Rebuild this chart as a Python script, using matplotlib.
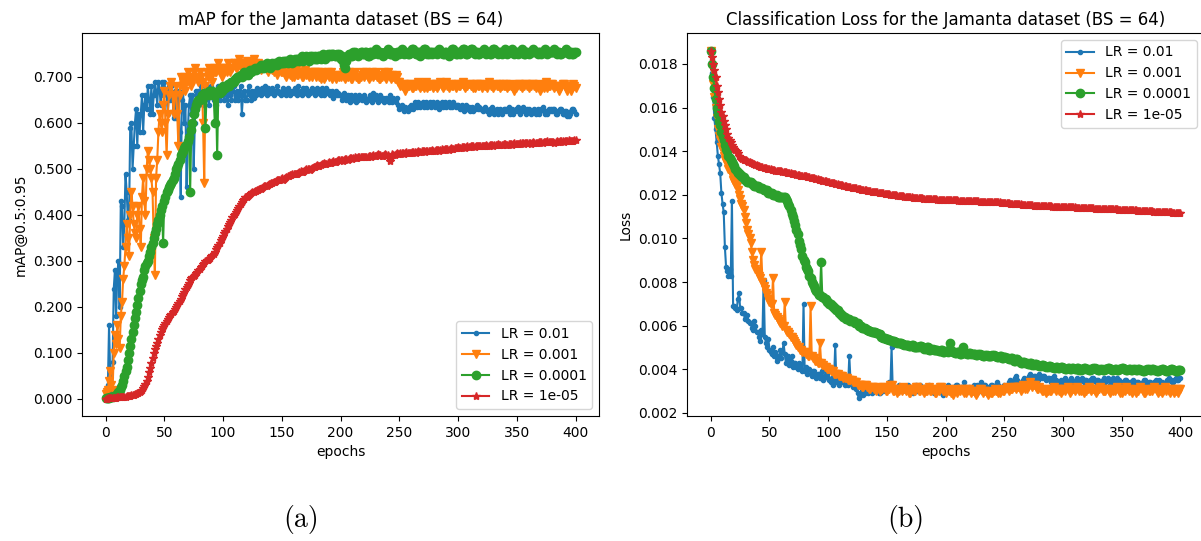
import matplotlib.pyplot as plt
import numpy as np
from matplotlib.ticker import FormatStrFormatter

# one value per epoch (0..400)
labels = ['LR = 0.01', 'LR = 0.001', 'LR = 0.0001', 'LR = 1e-05']
markers = ['.', 'v', 'o', '*']

map_lr1 = [
    .005, .01, .03, .16, .05, .02, .08, .24, .28, .18, .27, .30, .20, .43, .42, .33, .38, .49, .45, .39,
    .39, .59, .60, .50, .55, .60, .63, .55, .62, .58, .62, .66, .58, .64, .66, .63, .68, .65, .62, .68,
    .62, .66, .69, .67, .64, .69, .67, .64, .69, .66, .69, .67, .66, .62, .68, .65, .68, .66, .61, .67,
    .61, .65, .67, .58, .44, .65, .67, .60, .64, .46, .58, .64, .66, .62, .66, .50, .60, .67, .64, .67,
    .65, .68, .66, .64, .67, .65, .68, .66, .64, .67, .68, .66, .65, .67, .64, .66, .68, .65, .66, .67,
    .68, .65, .67, .66, .64, .68, .66, .65, .67, .68, .65, .66, .67, .65, .66, .68, .62, .66, .67, .65,
    .65, .67, .68, .66, .65, .67, .655, .67, .66, .675, .665, .67, .66, .675, .665, .67, .68, .66, .675, .67,
    .665, .67, .675, .66, .665, .67, .68, .67, .665, .66, .67, .675, .665, .67, .66, .675, .67, .66, .665, .67,
    .665, .675, .67, .66, .68, .665, .67, .66, .675, .665, .67, .675, .66, .67, .665, .67, .675, .665, .66, .67,
    .675, .665, .67, .66, .675, .665, .66, .67, .675, .665, .67, .66, .665, .67, .655, .665, .67, .66, .665, .66,
    .66, .65, .655, .665, .66, .65, .66, .655, .645, .66, .655, .65, .66, .645, .655, .65, .66, .655, .65, .655,
    .66, .655, .645, .65, .655, .66, .65, .645, .665, .655, .66, .65, .645, .655, .66, .65, .655, .645, .65, .655,
    .65, .645, .66, .65, .645, .655, .65, .645, .655, .64, .63, .635, .64, .63, .625, .635, .63, .625, .635, .63,
    .64, .635, .63, .645, .64, .635, .645, .64, .635, .64, .645, .635, .64, .645, .635, .64, .645, .635, .64, .645,
    .635, .64, .645, .64, .63, .64, .645, .635, .64, .645, .635, .64, .645, .635, .64, .635, .645, .64, .635, .64,
    .64, .635, .63, .64, .635, .625, .63, .64, .63, .635, .625, .63, .635, .625, .63, .635, .64, .63, .635, .63,
    .63, .625, .63, .635, .63, .625, .62, .63, .625, .635, .63, .62, .625, .63, .62, .625, .63, .62, .625, .63,
    .63, .625, .63, .635, .62, .625, .63, .62, .625, .63, .625, .635, .63, .62, .625, .635, .63, .625, .62, .63,
    .63, .625, .62, .625, .625, .63, .62, .625, .63, .62, .625, .63, .635, .625, .62, .625, .62, .63, .625, .63,
    .625, .63, .63, .62, .62, .625, .625, .63, .63, .62, .62, .625, .625, .615, .615, .62, .625, .63, .63, .625,
    .62]
map_lr2 = [
    .01, .015, .02, .04, .06, .03, .02, .10, .14, .12, .16, .13, .11, .18, .21, .26, .29, .33, .38, .35,
    .31, .40, .45, .42, .38, .36, .35, .40, .42, .37, .33, .44, .48, .43, .40, .50, .54, .52, .50, .48,
    .45, .35, .27, .48, .52, .58, .62, .60, .58, .64, .67, .60, .53, .62, .66, .68, .69, .66, .62, .66,
    .68, .62, .55, .66, .70, .68, .69, .70, .67, .69, .71, .70, .70, .68, .69, .71, .72, .70, .70, .69,
    .71, .70, .69, .60, .47, .68, .71, .70, .72, .71, .70, .69, .72, .71, .71, .72, .73, .71, .72, .70,
    .71, .72, .72, .71, .73, .72, .71, .72, .72, .73, .73, .72, .72, .73, .74, .72, .72, .73, .73, .72,
    .735, .73, .72, .73, .73, .72, .74, .73, .72, .725, .73, .72, .715, .725, .725, .72, .72, .715, .71, .72,
    .725, .72, .715, .71, .72, .715, .705, .715, .72, .71, .71, .715, .715, .705, .70, .71, .715, .705, .71, .70,
    .70, .71, .715, .705, .705, .71, .71, .70, .70, .71, .715, .705, .705, .70, .71, .705, .70, .71, .71, .70,
    .705, .71, .70, .695, .71, .705, .695, .70, .705, .71, .70, .705, .71, .695, .70, .705, .695, .70, .705, .70,
    .70, .705, .71, .70, .695, .70, .70, .71, .705, .695, .695, .705, .71, .70, .70, .695, .695, .70, .705, .71,
    .70, .705, .71, .70, .695, .70, .705, .71, .70, .705, .71, .70, .70, .695, .695, .70, .705, .71, .70, .695,
    .71, .705, .70, .695, .705, .70, .695, .705, .70, .69, .69, .68, .68, .685, .685, .67, .675, .68, .68, .685,
    .685, .675, .675, .68, .68, .685, .69, .68, .675, .68, .68, .675, .685, .69, .675, .68, .68, .685, .685, .675,
    .68, .685, .675, .68, .685, .69, .68, .675, .68, .685, .69, .68, .675, .68, .685, .68, .68, .685, .675, .68,
    .685, .68, .68, .685, .69, .68, .675, .68, .68, .685, .685, .68, .68, .675, .675, .685, .685, .68, .68, .685,
    .675, .68, .685, .68, .68, .675, .69, .685, .68, .68, .675, .68, .685, .68, .68, .685, .675, .68, .685, .68,
    .68, .685, .675, .68, .685, .68, .68, .675, .67, .675, .68, .685, .685, .68, .675, .68, .68, .685, .685, .68,
    .675, .68, .68, .685, .685, .68, .675, .68, .68, .685, .67, .675, .68, .675, .685, .69, .675, .68, .68, .685,
    .685, .68, .675, .68, .68, .675, .67, .675, .68, .685, .685, .68, .675, .67, .68, .675, .67, .68, .685, .68,
    .675]
map_lr3 = [
    .002, .002, .003, .003, .004, .004, .005, .006, .007, .008, .01, .015, .02, .025, .03, .04, .05, .06, .07, .085,
    .10, .115, .13, .145, .16, .175, .19, .205, .22, .235, .25, .258, .265, .28, .29, .295, .30, .31, .32, .33,
    .34, .35, .36, .37, .38, .39, .40, .41, .42, .34, .43, .44, .45, .455, .46, .465, .47, .475, .48, .49,
    .50, .505, .51, .52, .53, .535, .54, .545, .55, .555, .56, .57, .45, .585, .60, .62, .63, .64, .645, .65,
    .65, .655, .66, .66, .665, .59, .66, .665, .67, .66, .665, .67, .66, .60, .665, .53, .67, .665, .675, .67,
    .68, .675, .675, .68, .685, .68, .685, .69, .69, .69, .695, .695, .70, .70, .70, .705, .70, .705, .71, .705,
    .71, .705, .71, .715, .71, .715, .715, .72, .715, .72, .72, .72, .725, .72, .725, .72, .725, .73, .725, .725,
    .72, .725, .73, .725, .73, .73, .725, .73, .735, .73, .73, .735, .73, .735, .735, .73, .735, .74, .735, .73,
    .735, .74, .735, .74, .74, .735, .74, .745, .735, .74, .74, .745, .74, .735, .745, .74, .745, .74, .745, .74,
    .74, .745, .745, .74, .745, .75, .745, .74, .745, .75, .745, .75, .745, .75, .75, .745, .745, .75, .745, .75,
    .74, .745, .735, .725, .72, .735, .745, .75, .75, .745, .745, .755, .755, .75, .75, .745, .75, .755, .755, .75,
    .75, .755, .755, .745, .745, .755, .755, .75, .75, .755, .76, .755, .75, .755, .755, .75, .745, .75, .755, .755,
    .76, .755, .75, .75, .755, .75, .745, .75, .755, .755, .75, .755, .76, .755, .75, .755, .755, .75, .75, .755,
    .755, .76, .76, .755, .75, .75, .755, .755, .745, .75, .755, .76, .76, .755, .75, .75, .755, .755, .75, .755,
    .755, .755, .75, .755, .76, .755, .755, .75, .75, .755, .755, .75, .745, .75, .755, .76, .76, .755, .75, .75,
    .755, .755, .75, .755, .76, .76, .755, .75, .75, .755, .755, .76, .76, .755, .75, .755, .755, .75, .75, .755,
    .755, .755, .76, .755, .75, .755, .755, .75, .75, .755, .76, .76, .755, .755, .75, .755, .755, .75, .755, .755,
    .76, .755, .75, .755, .755, .755, .76, .755, .75, .755, .755, .75, .755, .755, .76, .755, .75, .75, .755, .755,
    .75, .755, .755, .755, .76, .755, .755, .755, .75, .755, .755, .75, .755, .755, .76, .755, .75, .755, .755, .755,
    .755, .755, .76, .755, .75, .755, .755, .75, .75, .755, .755, .755, .76, .755, .75, .755, .755, .75, .75, .755,
    .755]
map_lr4 = [
    .000, .000, .001, .001, .002, .002, .003, .003, .003, .003, .004, .004, .004, .004, .005, .005, .005, .005, .006, .006,
    .006, .007, .008, .008, .009, .010, .011, .012, .014, .016, .018, .020, .023, .028, .033, .040, .048, .058, .068, .079,
    .090, .099, .108, .115, .122, .130, .138, .145, .152, .156, .160, .165, .170, .174, .178, .182, .185, .188, .192, .196,
    .200, .204, .208, .213, .218, .223, .228, .233, .238, .243, .248, .253, .258, .262, .265, .268, .270, .273, .276, .280,
    .283, .287, .290, .293, .296, .299, .302, .303, .305, .307, .310, .313, .316, .320, .325, .330, .335, .340, .345, .350,
    .355, .360, .365, .370, .375, .380, .385, .390, .395, .399, .403, .406, .410, .415, .420, .424, .428, .432, .435, .438,
    .440, .442, .444, .446, .447, .449, .450, .452, .453, .454, .455, .456, .457, .459, .460, .462, .463, .464, .465, .467,
    .468, .469, .470, .471, .472, .474, .475, .476, .477, .479, .480, .477, .478, .481, .483, .484, .485, .486, .487, .489,
    .490, .489, .488, .490, .492, .494, .495, .494, .493, .495, .497, .499, .500, .499, .498, .500, .502, .504, .505, .507,
    .508, .507, .506, .508, .510, .511, .512, .511, .510, .513, .515, .514, .513, .515, .517, .516, .515, .517, .519, .520,
    .520, .519, .518, .520, .522, .521, .520, .522, .524, .523, .522, .524, .525, .524, .523, .525, .527, .526, .525, .526,
    .527, .526, .525, .527, .529, .528, .527, .529, .530, .529, .528, .530, .532, .531, .530, .529, .528, .530, .532, .531,
    .530, .524, .518, .525, .532, .531, .530, .532, .534, .533, .532, .534, .535, .534, .533, .535, .536, .535, .534, .535,
    .535, .536, .537, .536, .535, .537, .538, .537, .536, .538, .539, .538, .537, .539, .540, .539, .538, .540, .541, .540,
    .540, .541, .542, .541, .540, .542, .543, .542, .541, .543, .544, .543, .542, .544, .545, .544, .543, .545, .546, .546,
    .547, .546, .545, .547, .548, .547, .546, .548, .549, .548, .547, .549, .550, .549, .548, .549, .549, .550, .551, .550,
    .550, .550, .549, .550, .552, .551, .550, .552, .553, .552, .551, .552, .552, .553, .554, .553, .552, .553, .553, .554,
    .554, .553, .552, .554, .555, .554, .553, .554, .556, .555, .554, .555, .555, .556, .557, .556, .555, .556, .556, .557,
    .557, .556, .555, .557, .558, .557, .556, .557, .557, .558, .559, .558, .557, .558, .558, .559, .560, .559, .558, .559,
    .559, .558, .557, .559, .560, .559, .558, .560, .561, .560, .559, .560, .560, .561, .562, .561, .560, .561, .561, .562,
    .562]

loss_lr1 = [
    .0186, .0176, .0165, .0155, .0150, .0144, .0138, .0134, .0130, .0121, .0116, .0112, .0096, .0087, .0085, .0083, .0086, .0083, .0117, .0069,
    .0069, .0068, .0067, .0072, .0075, .0068, .0068, .0066, .0066, .0063, .0063, .0065, .0062, .0061, .0061, .0059, .0058, .0062, .0060, .0057,
    .0057, .0055, .0053, .0058, .0056, .0081, .0055, .0052, .0050, .0054, .0049, .0048, .0047, .0050, .0046, .0048, .0044, .0046, .0045, .0049,
    .0045, .0048, .0052, .0047, .0043, .0045, .0046, .0042, .0044, .0046, .0041, .0043, .0043, .0041, .0040, .0043, .0042, .0040, .0039, .0070,
    .0039, .0041, .0038, .0040, .0040, .0038, .0037, .0039, .0039, .0037, .0036, .0038, .0038, .0036, .0037, .0039, .0035, .0037, .0039, .0038,
    .0036, .0035, .0034, .0036, .0033, .0035, .0051, .0034, .0035, .0033, .0034, .0036, .0036, .0034, .0033, .0035, .0035, .0033, .0046, .0035,
    .0034, .0032, .0033, .0034, .0031, .0029, .0027, .0028, .0029, .0030, .0028, .0029, .0030, .0031, .0029, .0030, .0031, .0029, .0030, .0031,
    .0032, .0030, .0031, .0029, .0029, .0031, .0032, .0030, .0031, .0032, .0033, .0031, .0034, .0032, .0050, .0031, .0032, .0030, .0030, .0032,
    .0033, .0032, .0031, .0030, .0032, .0031, .0030, .0032, .0033, .0031, .0031, .0030, .0029, .0031, .0032, .0033, .0030, .0031, .0033, .0032,
    .0031, .0030, .0032, .0031, .0030, .0032, .0033, .0031, .0031, .0030, .0029, .0031, .0032, .0030, .0030, .0032, .0031, .0029, .0028, .0030,
    .0031, .0032, .0033, .0031, .0030, .0031, .0032, .0030, .0031, .0033, .0033, .0031, .0030, .0032, .0032, .0031, .0034, .0032, .0031, .0030,
    .0032, .0031, .0030, .0032, .0033, .0032, .0031, .0033, .0032, .0030, .0034, .0032, .0031, .0033, .0033, .0032, .0030, .0031, .0032, .0033,
    .0033, .0032, .0031, .0033, .0034, .0033, .0032, .0031, .0030, .0032, .0033, .0031, .0031, .0033, .0034, .0035, .0032, .0034, .0035, .0036,
    .0037, .0035, .0034, .0033, .0033, .0034, .0035, .0036, .0034, .0035, .0036, .0037, .0038, .0036, .0035, .0037, .0037, .0036, .0036, .0035,
    .0038, .0037, .0036, .0037, .0037, .0036, .0035, .0036, .0036, .0035, .0034, .0036, .0037, .0035, .0035, .0034, .0033, .0034, .0035, .0034,
    .0034, .0035, .0036, .0034, .0033, .0034, .0035, .0036, .0034, .0033, .0033, .0035, .0036, .0034, .0034, .0035, .0036, .0035, .0034, .0035,
    .0035, .0034, .0033, .0035, .0034, .0036, .0036, .0035, .0034, .0035, .0035, .0034, .0033, .0034, .0035, .0036, .0034, .0035, .0036, .0035,
    .0033, .0034, .0035, .0036, .0034, .0035, .0036, .0034, .0035, .0034, .0033, .0034, .0034, .0035, .0035, .0034, .0033, .0034, .0034, .0033,
    .0035, .0034, .0033, .0034, .0034, .0033, .0032, .0033, .0034, .0035, .0035, .0034, .0033, .0034, .0034, .0033, .0032, .0033, .0034, .0035,
    .0033, .0034, .0035, .0034, .0034, .0033, .0032, .0033, .0034, .0035, .0036, .0035, .0035, .0034, .0034, .0035, .0036, .0035, .0035, .0036,
    .0036]
loss_lr2 = [
    .0186, .0178, .0171, .0165, .0160, .0155, .0150, .0147, .0145, .0142, .0140, .0138, .0136, .0135, .0134, .0132, .0131, .0130, .0129, .0127,
    .0126, .0125, .0124, .0122, .0120, .0118, .0116, .0115, .0113, .0110, .0107, .0104, .0102, .0100, .0098, .0094, .0090, .0088, .0086, .0085,
    .0084, .0083, .0082, .0094, .0080, .0078, .0077, .0075, .0074, .0072, .0071, .0070, .0070, .0082, .0066, .0065, .0064, .0063, .0062, .0061,
    .0061, .0060, .0060, .0071, .0058, .0057, .0057, .0056, .0055, .0055, .0054, .0053, .0052, .0051, .0050, .0050, .0049, .0049, .0048, .0048,
    .0048, .0047, .0047, .0046, .0046, .0069, .0046, .0045, .0045, .0044, .0044, .0043, .0043, .0052, .0043, .0042, .0042, .0041, .0041, .0040,
    .0040, .0040, .0039, .0039, .0039, .0038, .0038, .0038, .0038, .0037, .0037, .0037, .0037, .0036, .0036, .0036, .0036, .0035, .0035, .0035,
    .0035, .0034, .0034, .0034, .0034, .0033, .0033, .0033, .0033, .0032, .0032, .0033, .0033, .0032, .0032, .0031, .0031, .0032, .0032, .0031,
    .0031, .0030, .0032, .0031, .0030, .0031, .0031, .0032, .0032, .0030, .0030, .0031, .0031, .0033, .0033, .0030, .0030, .0031, .0031, .0029,
    .0030, .0031, .0031, .0030, .0032, .0031, .0030, .0031, .0031, .0029, .0029, .0031, .0031, .0030, .0030, .0032, .0032, .0030, .0030, .0031,
    .0031, .0030, .0029, .0030, .0030, .0031, .0032, .0030, .0030, .0031, .0031, .0029, .0029, .0030, .0030, .0032, .0032, .0031, .0030, .0030,
    .0029, .0030, .0031, .0030, .0030, .0029, .0028, .0030, .0031, .0030, .0029, .0030, .0030, .0031, .0031, .0030, .0029, .0029, .0030, .0031,
    .0031, .0030, .0029, .0030, .0030, .0029, .0028, .0029, .0030, .0031, .0031, .0030, .0029, .0030, .0030, .0029, .0028, .0029, .0030, .0029,
    .0029, .0030, .0031, .0030, .0030, .0029, .0029, .0030, .0031, .0030, .0030, .0031, .0032, .0031, .0030, .0031, .0031, .0031, .0032, .0032,
    .0031, .0032, .0032, .0032, .0030, .0031, .0033, .0032, .0031, .0031, .0032, .0033, .0034, .0033, .0032, .0033, .0033, .0032, .0031, .0031,
    .0032, .0031, .0030, .0030, .0031, .0030, .0029, .0030, .0031, .0030, .0030, .0031, .0032, .0031, .0030, .0031, .0031, .0030, .0029, .0030,
    .0031, .0031, .0030, .0031, .0032, .0031, .0029, .0030, .0031, .0031, .0030, .0031, .0032, .0031, .0030, .0030, .0031, .0030, .0029, .0030,
    .0030, .0031, .0032, .0031, .0030, .0031, .0031, .0030, .0029, .0030, .0031, .0031, .0032, .0031, .0030, .0030, .0030, .0031, .0031, .0030,
    .0029, .0030, .0031, .0030, .0030, .0031, .0032, .0031, .0030, .0029, .0029, .0030, .0031, .0030, .0032, .0031, .0030, .0031, .0030, .0029,
    .0031, .0030, .0029, .0030, .0030, .0031, .0032, .0031, .0030, .0029, .0029, .0030, .0031, .0030, .0030, .0031, .0030, .0031, .0032, .0031,
    .0030, .0029, .0031, .0030, .0029, .0030, .0031, .0032, .0030, .0031, .0030, .0029, .0031, .0031, .0030, .0029, .0030, .0031, .0029, .0031,
    .0031]
loss_lr3 = [
    .0186, .0180, .0174, .0169, .0164, .0160, .0157, .0154, .0152, .0149, .0147, .0145, .0143, .0141, .0140, .0138, .0137, .0136, .0135, .0134,
    .0133, .0132, .0131, .0130, .0130, .0129, .0129, .0128, .0128, .0127, .0127, .0126, .0126, .0126, .0126, .0125, .0125, .0124, .0124, .0124,
    .0124, .0123, .0123, .0123, .0123, .0122, .0122, .0122, .0122, .0121, .0121, .0121, .0121, .0120, .0120, .0120, .0120, .0119, .0119, .0119,
    .0119, .0119, .0119, .0119, .0118, .0117, .0116, .0115, .0113, .0111, .0110, .0108, .0106, .0104, .0102, .0099, .0097, .0095, .0092, .0090,
    .0089, .0087, .0086, .0085, .0083, .0082, .0080, .0079, .0078, .0077, .0076, .0075, .0074, .0074, .0089, .0073, .0073, .0072, .0072, .0071,
    .0071, .0070, .0070, .0069, .0069, .0068, .0068, .0067, .0067, .0066, .0066, .0065, .0065, .0064, .0064, .0063, .0063, .0063, .0063, .0062,
    .0062, .0062, .0062, .0061, .0061, .0061, .0060, .0060, .0060, .0059, .0059, .0059, .00585, .0058, .0058, .00575, .00575, .0057, .0057, .0057,
    .0057, .00565, .00565, .0056, .0056, .0055, .0055, .00545, .00545, .0054, .0054, .0054, .00535, .00535, .0053, .0053, .0053, .00525, .00525, .0052,
    .0052, .0052, .0052, .00515, .00515, .0051, .0051, .0051, .0051, .00505, .00505, .0051, .0051, .0050, .0050, .0050, .0050, .0050, .00505, .00505,
    .0050, .0050, .00495, .00495, .0050, .0050, .0049, .0049, .00495, .00495, .0049, .0049, .0049, .0049, .00485, .00485, .0049, .0049, .0048, .0048,
    .00485, .00485, .0048, .0049, .0052, .0049, .0048, .0048, .00475, .00475, .0048, .0048, .0047, .0047, .0049, .0050, .00475, .00475, .0047, .0047,
    .00475, .00475, .0047, .0047, .0047, .0047, .00465, .00465, .0047, .0047, .00465, .00465, .0046, .0046, .00465, .00465, .0046, .0046, .0046, .0046,
    .00465, .00465, .0046, .0046, .00455, .00455, .0046, .0046, .0045, .0045, .00455, .00455, .0045, .0045, .00445, .00445, .0045, .0045, .0044, .0044,
    .00445, .00445, .0044, .0044, .0043, .0043, .00435, .00435, .0043, .0043, .00425, .00425, .0043, .0043, .0042, .0042, .00425, .00425, .0042, .0042,
    .00415, .00415, .0042, .0042, .00415, .00415, .0041, .0041, .00415, .00415, .0041, .0041, .00405, .00405, .0041, .0041, .00405, .00405, .0041, .0041,
    .00405, .00405, .0040, .0040, .00405, .00405, .0040, .0040, .00405, .00405, .0040, .0040, .00405, .00405, .00395, .00395, .0040, .0040, .00405, .00405,
    .0040, .0040, .00395, .00395, .0040, .0040, .00405, .00405, .0040, .0040, .00395, .00395, .0040, .0040, .00395, .00395, .0040, .0040, .00405, .00405,
    .0040, .0040, .00395, .00395, .0040, .0040, .00395, .00395, .0040, .0040, .00405, .00405, .0040, .0040, .00395, .00395, .0040, .0040, .00395, .00395,
    .0040, .0040, .00395, .00395, .0040, .0040, .00395, .00395, .0039, .0039, .00395, .00395, .0040, .0040, .00395, .00395, .0040, .0040, .00395, .00395,
    .0039, .0039, .00395, .00395, .0040, .0040, .00395, .00395, .0039, .0039, .00395, .00395, .0040, .0040, .00395, .00395, .0039, .0039, .00395, .00395,
    .00395]
loss_lr4 = [
    .0186, .0183, .0180, .0177, .0174, .0170, .0167, .0164, .0161, .0158, .0156, .0154, .0152, .0150, .0148, .0146, .0145, .0144, .0143, .0142,
    .0141, .01405, .0140, .0139, .0138, .01375, .0137, .01365, .0136, .0136, .0136, .01355, .0135, .0135, .01345, .01345, .0134, .0134, .01335, .01335,
    .0133, .0133, .01328, .01327, .01326, .01324, .01322, .01321, .0132, .01319, .01318, .01316, .01315, .01313, .01312, .01311, .0131, .01309, .01308, .01308,
    .01307, .01306, .01305, .01304, .01303, .01302, .0130, .01299, .01298, .01297, .01296, .01295, .01294, .01292, .01291, .0129, .01288, .01287, .01286, .01286,
    .01285, .01284, .01282, .01281, .0128, .01278, .01277, .01276, .01275, .01273, .01272, .01271, .0127, .01268, .01267, .01265, .01264, .01262, .01261, .0126,
    .01258, .01257, .01256, .01254, .01253, .01252, .0125, .01249, .01248, .01246, .01245, .01244, .01243, .01241, .0124, .01239, .01238, .01236, .01235, .01234,
    .01233, .01232, .01231, .0123, .01229, .01228, .01227, .01225, .01224, .01223, .01222, .01221, .0122, .01219, .01218, .01217, .01216, .01215, .01214, .01214,
    .01213, .01212, .01211, .0121, .01209, .01208, .01207, .01206, .01205, .01204, .01203, .01202, .01202, .01201, .0120, .01199, .01199, .01198, .01197, .01196,
    .01195, .01195, .01194, .01194, .01193, .01192, .01191, .01191, .0119, .01189, .01188, .01188, .01187, .01187, .01186, .01186, .01185, .01185, .01184, .01184,
    .01184, .01183, .01183, .01182, .01182, .01181, .01181, .0118, .0118, .0118, .0118, .01179, .01179, .01178, .01178, .01178, .01177, .01177, .01177, .01176,
    .01176, .01176, .01176, .01175, .01175, .01175, .01175, .01174, .01174, .01174, .01174, .01173, .01173, .01173, .01173, .01172, .01172, .01172, .01172, .01171,
    .01171, .01171, .01171, .0117, .0117, .0117, .0117, .0117, .0117, .01169, .01169, .01169, .01169, .01169, .01169, .01168, .01168, .01168, .01168, .01168,
    .01168, .01167, .01167, .01166, .01166, .01165, .01165, .01164, .01164, .01163, .01163, .01162, .01162, .01161, .01161, .0116, .0116, .01159, .01159, .01158,
    .01158, .01157, .01157, .01156, .01156, .01155, .01155, .01154, .01154, .01153, .01153, .01152, .01152, .01151, .01151, .0115, .0115, .0115, .0115, .01149,
    .01149, .01149, .01149, .01148, .01148, .01148, .01148, .01147, .01147, .01147, .01147, .01146, .01146, .01146, .01146, .01145, .01145, .01145, .01145, .01144,
    .01144, .01144, .01144, .01143, .01143, .01143, .01143, .01142, .01142, .01142, .01142, .01141, .01141, .01141, .01141, .0114, .0114, .0114, .0114, .01139,
    .01139, .01139, .01139, .01138, .01138, .01138, .01138, .01137, .01137, .01137, .01137, .01136, .01136, .01136, .01136, .01135, .01135, .01135, .01135, .01134,
    .01134, .01134, .01134, .01133, .01133, .01133, .01133, .01132, .01132, .01132, .01132, .01131, .01131, .01131, .01131, .0113, .0113, .0113, .0113, .01129,
    .01129, .01129, .01129, .01128, .01128, .01127, .01127, .01127, .01127, .01126, .01126, .01125, .01125, .01125, .01125, .01124, .01124, .01123, .01123, .01123,
    .01123, .01122, .01122, .01121, .01121, .01121, .01121, .0112, .0112, .01119, .01119, .01119, .01119, .01118, .01118, .01117, .01117, .01117, .01117, .01116,
    .01116]

map_series = [map_lr1, map_lr2, map_lr3, map_lr4]
loss_series = [loss_lr1, loss_lr2, loss_lr3, loss_lr4]

fig = plt.figure(figsize=(12.01, 5.41), dpi=100)
# the reference is a crop of a wider figure, so the right panel runs past the edge
ax1 = fig.add_axes([0.0683, 0.2311, 0.4305, 0.708])
ax2 = fig.add_axes([0.5723, 0.2311, 0.4300, 0.708])

for vals, lab, m in zip(map_series, labels, markers):
    ax1.plot(np.arange(len(vals)), vals, marker=m, label=lab)
ax1.set_title('mAP for the Jamanta dataset (BS = 64)')
ax1.set_xlabel('epochs')
ax1.set_ylabel('mAP@0.5:0.95')
ax1.set_xlim(-20, 420)
ax1.set_ylim(-0.037, 0.7957)
ax1.set_yticks(np.arange(0, 0.71, 0.1))
ax1.yaxis.set_major_formatter(FormatStrFormatter('%.3f'))
ax1.legend(loc='lower right')

for vals, lab, m in zip(loss_series, labels, markers):
    ax2.plot(np.arange(len(vals)), vals, marker=m, label=lab)
ax2.set_title('Classification Loss for the Jamanta dataset (BS = 64)')
ax2.set_xlabel('epochs')
ax2.set_ylabel('Loss')
ax2.set_xlim(-20, 420)
ax2.set_ylim(0.00186, 0.01942)
ax2.set_yticks(np.arange(0.002, 0.0181, 0.002))
ax2.yaxis.set_major_formatter(FormatStrFormatter('%.3f'))
ax2.legend(loc='upper right')

fig.text(301 / 1201, 1 - 520 / 541, '(a)', fontsize=20, fontfamily='cmr10',
         ha='center', va='center')
fig.text(906 / 1201, 1 - 520 / 541, '(b)', fontsize=20, fontfamily='cmr10',
         ha='center', va='center')

fig.savefig('out.png', dpi=100)
